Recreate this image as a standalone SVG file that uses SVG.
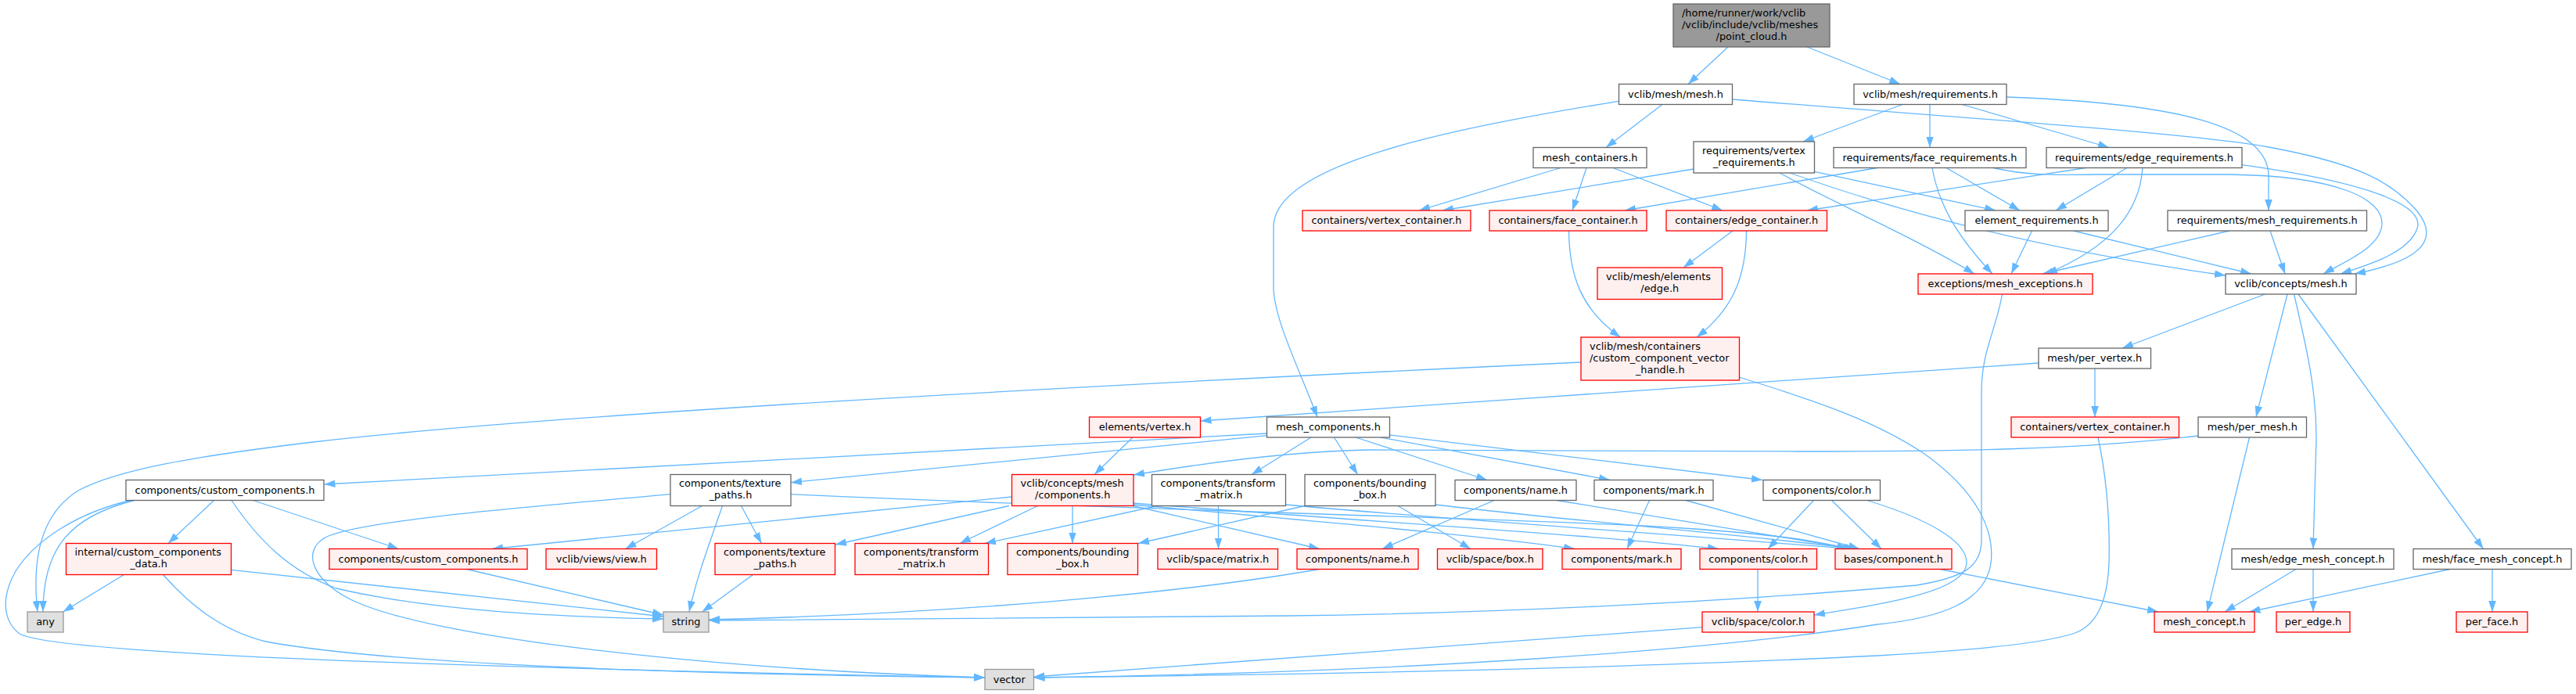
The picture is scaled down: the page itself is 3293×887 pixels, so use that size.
<svg xmlns="http://www.w3.org/2000/svg" width="3293" height="887" viewBox="0 0 3293 887">
<style>
text{font-family:"DejaVu Sans","Liberation Sans",sans-serif;font-size:12.9px;fill:#000}
.c{text-anchor:middle}
.l{text-anchor:start}
rect{stroke-width:1.3}
.w rect{fill:#fff;stroke:#666}
.r rect{fill:#fff0f0;stroke:#f00}
.g rect{fill:#e0e0e0;stroke:#999}
.k rect{fill:#999;stroke:#666}
#edges path{fill:none;stroke:#63b8ff;stroke-width:1.3;marker-end:url(#a)}
</style>
<defs>
<marker id="a" markerUnits="userSpaceOnUse" markerWidth="14" markerHeight="10" viewBox="0 0 13 9" refX="13" refY="4.5" orient="auto">
<path d="M0,0 L13,4.5 L0,9 z" fill="#63b8ff"/>
</marker>
</defs>
<rect width="3293" height="887" fill="#fff"/>
<g id="edges">
<path d="M2209,60 L2158,107.5"/>
<path d="M2310,60 L2429,107.5"/>
<path d="M2125,133.5 L2053,188.5"/>
<path d="M2069.5,129.3 C1850,165 1628,210 1628,290 L1628,370 C1630,410 1660,470 1684,533"/>
<path d="M2215,127 C2500,150 2800,170 2900,188 C3020,210 3060,235 3090,270 C3130,320 3060,340 3010,350"/>
<path d="M2432,133.5 L2305,181"/>
<path d="M2467,133.5 L2467,188.5"/>
<path d="M2508,133.5 L2696,188.5"/>
<path d="M2565,124 C2780,132 2900,160 2900,225 L2900,269"/>
<path d="M1995,214.5 L1814,269"/>
<path d="M2028,214.5 L2010,269"/>
<path d="M2062,214.5 L2202,269"/>
<path d="M2165,216 L1844,269"/>
<path d="M2319.5,219.3 L2551,269"/>
<path d="M2275,221 C2350,262 2440,300 2524,350"/>
<path d="M2288,221 C2420,268 2600,318 2845,352"/>
<path d="M2400,214.5 L2077,269"/>
<path d="M2488,214.5 L2582,269"/>
<path d="M2470,214.5 C2478,260 2500,300 2547,350"/>
<path d="M2548,214.5 C2590,224 2620,224 2680,223 L2850,223 C2990,225 3045,255 3045,285 C3045,315 3000,333 2970,350"/>
<path d="M2666.5,214.5 L2310,269"/>
<path d="M2719,214.5 L2628,269"/>
<path d="M2739,214.5 C2735,270 2700,315 2616,350"/>
<path d="M2866,210.7 C3026,233 3100,262 3090,292 C3080,322 3030,338 2992,350"/>
<path d="M2597.5,295 L2571,350"/>
<path d="M2650.5,295 L2878,350"/>
<path d="M2850,295 L2611,350"/>
<path d="M2902,295 L2921,350"/>
<path d="M2005.5,295 C2006,350 2020,395 2071.5,431"/>
<path d="M2215,295 L2152,342"/>
<path d="M2232.5,295 C2232,355 2215,395 2169,431"/>
<path d="M2559.5,376 C2552,420 2533,450 2533,500 L2533,690 C2533,725 2510,738 2450,748 C2200,770 1900,784 1650,787 L906,793"/>
<path d="M2223,482 C2330,515 2400,540 2460,580 C2530,630 2550,680 2545,720 C2538,770 2480,790 2400,798 C2200,830 1800,860 1321.5,866"/>
<path d="M2021,463 C1400,492 700,530 400,565 C250,583 150,600 100,627 C55,655 40,710 48,782"/>
<path d="M2606,464 L1534.5,538"/>
<path d="M2678,471 L2678,533"/>
<path d="M2875.5,559 L2821.5,782"/>
<path d="M2810,557 C2650,575 2500,577 2300,577 L1750,575 C1650,577 1550,590 1449,607"/>
<path d="M1448,559 L1399,606.5"/>
<path d="M2895.5,376 L2713,445"/>
<path d="M2924,376 L2884,533"/>
<path d="M2932.5,376 C2950,450 2961,500 2961,560 L2957,701.5"/>
<path d="M2938,376 L3174.5,701.5"/>
<path d="M2935,727.5 L2844,782"/>
<path d="M2957,727.5 L2957,782"/>
<path d="M3132,727.5 L2875.5,782"/>
<path d="M3186,727.5 L3186,782"/>
<path d="M2480,727.5 L2759,782"/>
<path d="M2682,559 C2695,620 2697,680 2696,720 C2694,770 2680,800 2650,810 C2600,825 2500,832 2400,838 C2100,853 1700,862 1321.5,866"/>
<path d="M2386.7,639.5 C2460,662 2515,690 2514,720 C2512,755 2420,770 2319,786"/>
<path d="M2318.5,639.5 L2260,701.5"/>
<path d="M2341.5,639.5 L2405,701.5"/>
<path d="M2108.5,639.5 L2080,701.5"/>
<path d="M2155,639.5 L2377,701.5"/>
<path d="M1910,639.5 L1767,701.5"/>
<path d="M1990,639.5 L2370,701.5"/>
<path d="M1787,646.5 L1880,701.5"/>
<path d="M1668,646.5 L1455,694.5"/>
<path d="M1835,645 C2000,665 2200,680 2373,701.5"/>
<path d="M1557.5,646.5 L1557.5,701.5"/>
<path d="M1480,646.5 L1259,694.5"/>
<path d="M1643.5,645 C1800,660 2100,680 2366,701.5"/>
<path d="M1011,631.7 C1400,650 1900,662 2100,672 C2250,680 2320,690 2362,701.5"/>
<path d="M897.5,646.5 L799.5,701.5"/>
<path d="M923.5,646.5 C905,700 890,740 881,782"/>
<path d="M947.5,646.5 L973.5,694.5"/>
<path d="M857,631.7 C650,650 470,665 420,685 C385,700 395,740 450,767 C550,815 900,855 1259,866"/>
<path d="M962.5,734.5 L897.5,782"/>
<path d="M1293.5,635 L629,701.5"/>
<path d="M1290,646.5 L1068,696"/>
<path d="M1326.5,646.5 L1227,694.5"/>
<path d="M1371,646.5 L1371,694.5"/>
<path d="M1448.5,646.5 L1687,701.5"/>
<path d="M1448.5,645 C1700,668 1900,685 2013,701.5"/>
<path d="M1448.5,643 C1800,670 2050,685 2197,701.5"/>
<path d="M1619.5,554 L414.5,619"/>
<path d="M1619.5,556.7 L1011,616.7"/>
<path d="M1676,559 L1600,606.5"/>
<path d="M1705.5,559 L1735.5,606.5"/>
<path d="M1733,559 L1901,613.5"/>
<path d="M1765,559 L2058,613.5"/>
<path d="M1776.5,556 L2253,613.5"/>
<path d="M171.7,639.5 C90,660 55,700 55,782"/>
<path d="M167,639.5 C100,655 45,690 20,730 C0,765 5,795 25,810 C60,830 400,850 1259,866"/>
<path d="M273.5,639.5 L215,694.5"/>
<path d="M323.5,639.5 L509.5,701.5"/>
<path d="M296,639.5 C330,690 370,730 430,752 C550,780 700,788 848,791"/>
<path d="M158.5,734.5 L80.5,782"/>
<path d="M295.5,728.3 L848,788"/>
<path d="M208.5,734.5 C240,770 280,805 340,820 C500,850 900,862 1259,866"/>
<path d="M596.5,727.5 L848,786"/>
<path d="M1686.5,727.5 C1500,760 1200,785 906,792"/>
<path d="M2176,801.7 L1321.5,865"/>
<path d="M2247,727.5 L2247,782"/>
</g>
<g id="n_root" class="k"><rect x="2139" y="5" width="200" height="55"/><text class="l" x="2150" y="21">/home/runner/work/vclib</text><text class="l" x="2150" y="36">/vclib/include/vclib/meshes</text><text class="c" x="2239" y="51">/point_cloud.h</text></g>
<g id="n_mesh" class="w"><rect x="2069.5" y="107.5" width="145" height="26"/><text class="c" x="2142" y="124.5">vclib/mesh/mesh.h</text></g>
<g id="n_req" class="w"><rect x="2370" y="107.5" width="195" height="26"/><text class="c" x="2467.5" y="124.5">vclib/mesh/requirements.h</text></g>
<g id="n_mcont" class="w"><rect x="1960" y="188.5" width="145" height="26"/><text class="c" x="2032.5" y="205.5">mesh_containers.h</text></g>
<g id="n_vreq" class="w"><rect x="2165" y="181" width="154.5" height="40"/><text class="l" x="2176" y="196.8">requirements/vertex</text><text class="c" x="2242.25" y="211.8">_requirements.h</text></g>
<g id="n_freq" class="w"><rect x="2344" y="188.5" width="246" height="26"/><text class="c" x="2467" y="205.5">requirements/face_requirements.h</text></g>
<g id="n_ereq" class="w"><rect x="2616" y="188.5" width="250" height="26"/><text class="c" x="2741" y="205.5">requirements/edge_requirements.h</text></g>
<g id="n_vcont" class="r"><rect x="1665" y="269" width="215" height="26"/><text class="c" x="1772.5" y="286">containers/vertex_container.h</text></g>
<g id="n_fcont" class="r"><rect x="1904" y="269" width="201" height="26"/><text class="c" x="2004.5" y="286">containers/face_container.h</text></g>
<g id="n_econt" class="r"><rect x="2130" y="269" width="205.5" height="26"/><text class="c" x="2232.75" y="286">containers/edge_container.h</text></g>
<g id="n_elreq" class="w"><rect x="2512" y="269" width="183" height="26"/><text class="c" x="2603.5" y="286">element_requirements.h</text></g>
<g id="n_mreq" class="w"><rect x="2771" y="269" width="254.5" height="26"/><text class="c" x="2898.25" y="286">requirements/mesh_requirements.h</text></g>
<g id="n_edge" class="r"><rect x="2042" y="342" width="159.5" height="40.5"/><text class="l" x="2053" y="357.8">vclib/mesh/elements</text><text class="c" x="2121.75" y="372.8">/edge.h</text></g>
<g id="n_exc" class="r"><rect x="2452" y="350" width="223" height="26"/><text class="c" x="2563.5" y="367">exceptions/mesh_exceptions.h</text></g>
<g id="n_cmesh" class="w"><rect x="2845" y="350" width="167" height="26"/><text class="c" x="2928.5" y="367">vclib/concepts/mesh.h</text></g>
<g id="n_handle" class="r"><rect x="2021" y="431" width="202.5" height="55"/><text class="l" x="2032" y="447">vclib/mesh/containers</text><text class="l" x="2032" y="462">/custom_component_vector</text><text class="c" x="2122.25" y="477">_handle.h</text></g>
<g id="n_pvert" class="w"><rect x="2606" y="445" width="143.5" height="26"/><text class="c" x="2677.75" y="462">mesh/per_vertex.h</text></g>
<g id="n_vertex" class="r"><rect x="1392.5" y="533" width="142" height="26"/><text class="c" x="1463.5" y="550">elements/vertex.h</text></g>
<g id="n_mcomp" class="w"><rect x="1619.5" y="533" width="157" height="26"/><text class="c" x="1698" y="550">mesh_components.h</text></g>
<g id="n_vcont2" class="r"><rect x="2571" y="533" width="214.5" height="26"/><text class="c" x="2678.25" y="550">containers/vertex_container.h</text></g>
<g id="n_pmesh" class="w"><rect x="2810" y="533" width="138.5" height="26"/><text class="c" x="2879.25" y="550">mesh/per_mesh.h</text></g>
<g id="n_cc" class="w"><rect x="161" y="613.5" width="253" height="26"/><text class="c" x="287.5" y="630.5">components/custom_components.h</text></g>
<g id="n_tp" class="w"><rect x="857" y="606.5" width="154" height="40"/><text class="l" x="868" y="622.3">components/texture</text><text class="c" x="934" y="637.3">_paths.h</text></g>
<g id="n_ccomp" class="r"><rect x="1293.5" y="606.5" width="155.5" height="40"/><text class="l" x="1304.5" y="622.3">vclib/concepts/mesh</text><text class="c" x="1371.25" y="637.3">/components.h</text></g>
<g id="n_tm" class="w"><rect x="1472.5" y="606.5" width="171" height="40"/><text class="l" x="1483.5" y="622.3">components/transform</text><text class="c" x="1558" y="637.3">_matrix.h</text></g>
<g id="n_bb" class="w"><rect x="1668" y="606.5" width="167" height="40"/><text class="l" x="1679" y="622.3">components/bounding</text><text class="c" x="1751.5" y="637.3">_box.h</text></g>
<g id="n_name" class="w"><rect x="1860" y="613.5" width="155" height="26"/><text class="c" x="1937.5" y="630.5">components/name.h</text></g>
<g id="n_mark" class="w"><rect x="2038" y="613.5" width="152" height="26"/><text class="c" x="2114" y="630.5">components/mark.h</text></g>
<g id="n_color" class="w"><rect x="2254" y="613.5" width="149.5" height="26"/><text class="c" x="2328.75" y="630.5">components/color.h</text></g>
<g id="n_icd" class="r"><rect x="84.5" y="694.5" width="211" height="40"/><text class="l" x="95.5" y="710.3">internal/custom_components</text><text class="c" x="190" y="725.3">_data.h</text></g>
<g id="n_ccr" class="r"><rect x="421" y="701.5" width="253" height="26"/><text class="c" x="547.5" y="718.5">components/custom_components.h</text></g>
<g id="n_view" class="r"><rect x="698" y="701.5" width="141.5" height="26"/><text class="c" x="768.75" y="718.5">vclib/views/view.h</text></g>
<g id="n_tpr" class="r"><rect x="914" y="694.5" width="153.5" height="40"/><text class="l" x="925" y="710.3">components/texture</text><text class="c" x="990.75" y="725.3">_paths.h</text></g>
<g id="n_tmr" class="r"><rect x="1093" y="694.5" width="170.5" height="40"/><text class="l" x="1104" y="710.3">components/transform</text><text class="c" x="1178.25" y="725.3">_matrix.h</text></g>
<g id="n_bbr" class="r"><rect x="1288" y="694.5" width="166.5" height="40"/><text class="l" x="1299" y="710.3">components/bounding</text><text class="c" x="1371.25" y="725.3">_box.h</text></g>
<g id="n_matrix" class="r"><rect x="1480" y="701.5" width="153.5" height="26"/><text class="c" x="1556.75" y="718.5">vclib/space/matrix.h</text></g>
<g id="n_namer" class="r"><rect x="1658" y="701.5" width="155" height="26"/><text class="c" x="1735.5" y="718.5">components/name.h</text></g>
<g id="n_box" class="r"><rect x="1837.5" y="701.5" width="134.5" height="26"/><text class="c" x="1904.75" y="718.5">vclib/space/box.h</text></g>
<g id="n_markr" class="r"><rect x="1997" y="701.5" width="152" height="26"/><text class="c" x="2073" y="718.5">components/mark.h</text></g>
<g id="n_colorr" class="r"><rect x="2173" y="701.5" width="149.5" height="26"/><text class="c" x="2247.75" y="718.5">components/color.h</text></g>
<g id="n_base" class="r"><rect x="2346" y="701.5" width="149" height="26"/><text class="c" x="2420.5" y="718.5">bases/component.h</text></g>
<g id="n_emc" class="w"><rect x="2853" y="701.5" width="207" height="26"/><text class="c" x="2956.5" y="718.5">mesh/edge_mesh_concept.h</text></g>
<g id="n_fmc" class="w"><rect x="3085" y="701.5" width="202" height="26"/><text class="c" x="3186" y="718.5">mesh/face_mesh_concept.h</text></g>
<g id="n_any" class="g"><rect x="35" y="782" width="46" height="26"/><text class="c" x="58" y="799">any</text></g>
<g id="n_string" class="g"><rect x="848" y="782" width="58" height="26"/><text class="c" x="877" y="799">string</text></g>
<g id="n_scolor" class="r"><rect x="2176" y="782" width="143" height="26"/><text class="c" x="2247.5" y="799">vclib/space/color.h</text></g>
<g id="n_mconc" class="r"><rect x="2754" y="782" width="128" height="26"/><text class="c" x="2818" y="799">mesh_concept.h</text></g>
<g id="n_pedge" class="r"><rect x="2910" y="782" width="94" height="26"/><text class="c" x="2957" y="799">per_edge.h</text></g>
<g id="n_pface" class="r"><rect x="3140" y="782" width="91" height="26"/><text class="c" x="3185.5" y="799">per_face.h</text></g>
<g id="n_vector" class="g"><rect x="1259" y="855.5" width="62.5" height="26"/><text class="c" x="1290.25" y="872.5">vector</text></g>
</svg>
